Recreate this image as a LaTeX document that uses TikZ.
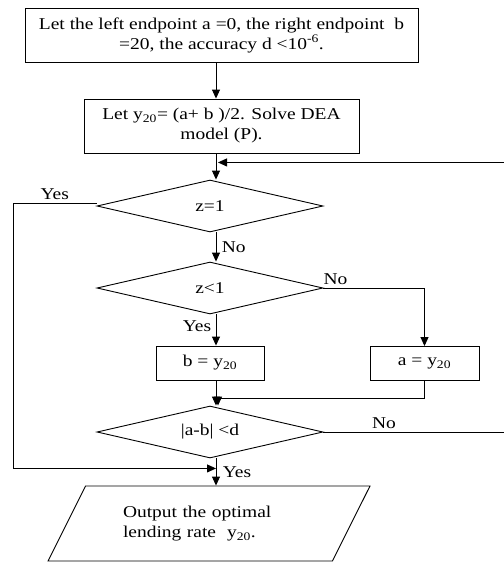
\documentclass[tikz,border=0pt]{standalone}
\usepackage{fontspec}
\setmainfont[FakeStretch=1.18]{Liberation Serif}
\usetikzlibrary{shapes.geometric,arrows.meta}

\begin{document}
\begin{tikzpicture}[x=1pt, y=-1pt, line width=0.9pt,
                        every node/.style={font=\fontsize{16.5}{20}\selectfont},
                        stepbox/.style={rectangle, draw=black, align=center, inner sep=0pt},
                        test/.style={diamond, draw=black, shape aspect=4.3, minimum width=226pt, minimum height=52pt, inner sep=0pt},
                        outbox/.style={trapezium, trapezium left angle=43, trapezium right angle=137,
                                       trapezium stretches body, draw=black, minimum width=322pt,
                                       minimum height=75pt, text width=172pt, align=left, inner sep=0pt},
                        flow/.style={-{Triangle[length=9pt,width=8pt]}}]
                    \useasboundingbox (0,0) rectangle (504,563);

                        % Boxes and tests
                        \node[stepbox, minimum width=393pt, minimum height=54pt] (init) at (221.5,35) {Let the left endpoint a =0, the right endpoint\ \ b\\ =20, the accuracy d <10\textsuperscript{-6}.}; % Start
                        \node[stepbox, minimum width=275pt, minimum height=54pt] (solve) at (221.5,126) {Let y\textsubscript{20}= (a+ b )/2. Solve DEA\\ model (P).}; % Solve model
                        \node[test] (zone) at (210,206) {z=1}; % First test
                        \node[test] (zless) at (210,288) {z<1}; % Second test
                        \node[stepbox, minimum width=108pt, minimum height=34pt] (setb) at (210,363) {b = y\textsubscript{20}}; % Yes branch
                        \node[stepbox, minimum width=109pt, minimum height=34pt] (seta) at (424.5,363.5) {a = y\textsubscript{20}}; % No branch
                        \node[test] (close) at (210,432) {|a-b| <d}; % Accuracy test
                        \node[outbox] (out) at (209,523.5) {Output the optimal\\ lending rate\ \ y\textsubscript{20}.}; % Result

                        % Helper points
                        \coordinate (axis) at (216,0);
                        \coordinate (loopR) at (507,0);
                        \coordinate (loopL) at (13,0);

                        % Define edges
                        \path [flow] (init.south -| axis) edge (solve.north -| axis);
                        \draw [flow] (solve.south -| axis) -- (zone.north -| axis);
                        \draw [flow] (zone.south -| axis) -- node[right, xshift=2pt] {No} (zless.north -| axis);
                        \draw [flow] (zless.south -| axis) -- node[left, xshift=-1pt, yshift=4pt] {Yes} (setb.north -| axis);
                        \draw [flow] (zless.east) -- node[above, pos=0.12] {No} (zless.east -| seta.north) -- (seta.north);
                        \draw [flow] (setb.south -| axis) -- (close.north -| axis);
                        \draw [flow] (seta.south) -- ++(0,17) -| ([xshift=2pt]close.north -| axis);
                        \draw [flow] (close.south -| axis) -- node[right, xshift=3pt] {Yes} (out.top side -| axis);
                        \draw [flow] (close.east) -- node[above, pos=0.33] {No} (close.east -| loopR) |- ([yshift=-9pt, xshift=2pt]solve.south -| axis);
                        \draw [flow] (zone.west) ++(0,-3) coordinate (yesL) -- node[above, pos=0.5] {Yes} (yesL -| loopL) |- ([yshift=-10pt]close.south -| axis);
                    \end{tikzpicture}
\end{document}
